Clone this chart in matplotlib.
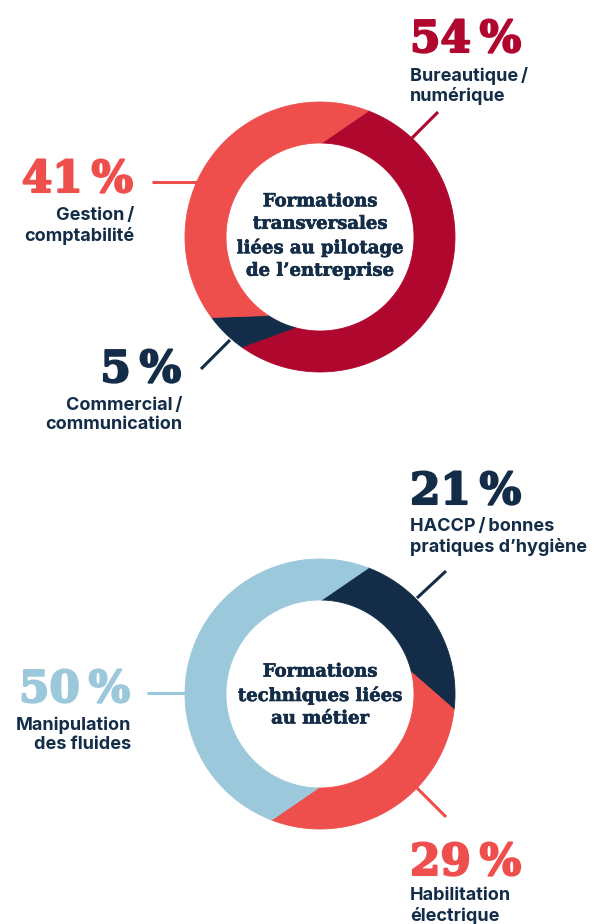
import numpy as np
import matplotlib
matplotlib.use("Agg")
import matplotlib.pyplot as plt
import matplotlib.patheffects as pe
from matplotlib.patches import Polygon

# --- data ---
top_labels = ["Bureautique\u2009/\nnumérique", "Commercial\u2009/\ncommunication", "Gestion\u2009/\ncomptabilité"]
top_values = [54, 5, 41]
top_title = "Formations\ntransversales\nliées au pilotage\nde l\u2019entreprise"

bottom_labels = ["HACCP\u2009/\u2009bonnes\npratiques d\u2019hygiène", "Habilitation\nélectrique", "Manipulation\ndes fluides"]
bottom_values = [21, 29, 50]
bottom_title = "Formations\ntechniques liées\nau métier"

DARKRED = "#B0072F"
CORAL = "#EE4F4D"
NAVY = "#132C47"
LIGHTBLUE = "#9CC8DC"

top_colors = [DARKRED, NAVY, CORAL]
bottom_colors = [NAVY, CORAL, LIGHTBLUE]

NUM_FONT = dict(family="DejaVu Serif", weight="bold", fontsize=31.5)
LAB_FONT = dict(family=["Inter", "DejaVu Sans"], weight="bold", fontsize=13, color=NAVY, linespacing=1.15)
TITLE_FONT = dict(family="DejaVu Serif", weight="bold", fontsize=13, color=NAVY, linespacing=1.32)


def pct(v):
    return f"{v}\u2009%"


def heavy(color, w):
    return [pe.withStroke(linewidth=w, foreground=color)]


def ring(ax, cx, cy, values, colors, start=21, twist=20, R=135, r=94):
    # slices go clockwise from the top, inner edge is rotated back by `twist`
    fr = np.concatenate([[0], np.cumsum(values)]) / sum(values)
    for i, col in enumerate(colors):
        a0 = start + 360 * fr[i]
        a1 = start + 360 * fr[i + 1]
        t = np.radians(np.linspace(a0, a1, 120))
        ti = t[::-1] - np.radians(twist)
        xs = np.concatenate([cx + R * np.sin(t), cx + r * np.sin(ti)])
        ys = np.concatenate([cy - R * np.cos(t), cy - r * np.cos(ti)])
        ax.add_patch(Polygon(np.column_stack([xs, ys]), closed=True,
                             facecolor=col, edgecolor=col, linewidth=0.6))


def number(ax, x, y, v, color, ha):
    ax.text(x, y, pct(v), ha=ha, va="baseline", color=color,
            path_effects=heavy(color, 1.5), **NUM_FONT)


fig = plt.figure(figsize=(5.98, 9.24), dpi=100)
ax = fig.add_axes([0, 0, 1, 1])
ax.set_xlim(0, 598)
ax.set_ylim(924, 0)
ax.axis("off")

# ---- top donut ----
cx, cy = 320, 237
ring(ax, cx, cy, top_values, top_colors)
ax.text(cx, cy - 1, top_title, ha="center", va="center",
        path_effects=heavy(NAVY, 0.45), **TITLE_FONT)

ax.plot([438, 412], [112, 138], color=DARKRED, lw=2.2, solid_capstyle="butt")
number(ax, 410, 52, top_values[0], DARKRED, "left")
ax.text(410, 86, top_labels[0], ha="left", va="center", **LAB_FONT)

ax.plot([152, 199], [182, 182], color=CORAL, lw=2.2, solid_capstyle="butt")
number(ax, 133, 192, top_values[2], CORAL, "right")
ax.text(134, 226, top_labels[2], ha="right", va="center", multialignment="right", **LAB_FONT)

ax.plot([230, 201], [340, 369], color=NAVY, lw=2.2, solid_capstyle="butt")
number(ax, 181, 382, top_values[1], NAVY, "right")
ax.text(182, 415, top_labels[1], ha="right", va="center", multialignment="right", **LAB_FONT)

# ---- bottom donut ----
cx, cy = 320, 694
ring(ax, cx, cy, bottom_values, bottom_colors)
ax.text(cx, cy + 1, bottom_title, ha="center", va="center",
        path_effects=heavy(NAVY, 0.45), **TITLE_FONT)

ax.plot([446, 417], [571, 598], color=NAVY, lw=2.2, solid_capstyle="butt")
number(ax, 410, 504, bottom_values[0], NAVY, "left")
ax.text(410, 537, bottom_labels[0], ha="left", va="center", **LAB_FONT)

ax.plot([147, 185], [693, 693], color=LIGHTBLUE, lw=2.2, solid_capstyle="butt")
number(ax, 130, 702, bottom_values[2], LIGHTBLUE, "right")
ax.text(131, 735, bottom_labels[2], ha="right", va="center", multialignment="right", **LAB_FONT)

ax.plot([417, 446], [788, 817], color=CORAL, lw=2.2, solid_capstyle="butt")
number(ax, 410, 875, bottom_values[1], CORAL, "left")
ax.text(410, 906, bottom_labels[1], ha="left", va="center", **LAB_FONT)

fig.savefig("out.png", dpi=100, facecolor="white")
